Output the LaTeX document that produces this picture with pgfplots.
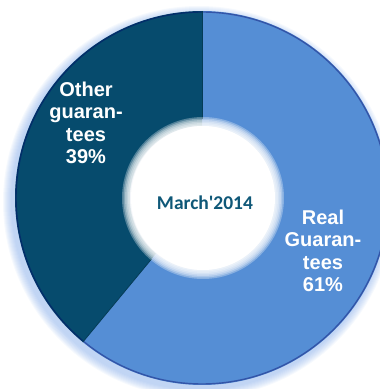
\documentclass[border=0pt]{standalone}
\usepackage{pgfplots}
\pgfplotsset{compat=1.18}
\usepackage{pgfplotstable}
\usepackage{fontspec}
\setmainfont{Liberation Sans}
\newfontfamily\calibri{Carlito}
\definecolor{realblue}{HTML}{558ED5}
\definecolor{otherblue}{HTML}{064B6D}
\definecolor{centertxt}{HTML}{0F5878}
\definecolor{glow}{HTML}{7FA8E8}

\pgfplotstableread{
label value
Real 61
Other 39
}\shares

\begin{document}
\begin{tikzpicture}
\pgfplotstablegetelem{0}{value}\of\shares \xdef\vReal{\pgfplotsretval}
\pgfplotstablegetelem{1}{value}\of\shares \xdef\vOther{\pgfplotsretval}
\pgfmathsetmacro\eReal{90-3.6*\vReal}\xdef\eReal{\eReal}
\pgfmathsetmacro\eOther{\eReal-3.6*\vOther}\xdef\eOther{\eOther}
\gdef\RR{187pt}
\gdef\rr{72pt}
\begin{axis}[scale only axis, width=380pt, height=389pt,
  xmin=-202, xmax=178, ymin=-191, ymax=198, hide axis, clip=true]
  % soft glow below the ring
  \pgfplotsinvokeforeach{1,...,9}{
    \fill[glow, opacity=0.07] (axis cs:-3,-4) circle[radius=187pt+#1pt];
  }
  % Real guarantees
  \fill[realblue] ([shift={(90:\RR)}]axis cs:0,0) arc[start angle=90, end angle=\eReal, radius=\RR]
    -- ([shift={(\eReal:\rr)}]axis cs:0,0) arc[start angle=\eReal, end angle=90, radius=\rr] -- cycle;
  % Other guarantees
  \fill[otherblue] ([shift={(\eReal:\RR)}]axis cs:0,0) arc[start angle=\eReal, end angle=\eOther, radius=\RR]
    -- ([shift={(\eOther:\rr)}]axis cs:0,0) arc[start angle=\eOther, end angle=\eReal, radius=\rr] -- cycle;
  % rims
  \draw[black!60!blue, opacity=0.4, line width=1.4pt] (axis cs:0,0) circle[radius=186pt];
  \draw[otherblue!80!black, line width=0.8pt] ([shift={(90:79pt)}]axis cs:0,0) -- ([shift={(90:\RR)}]axis cs:0,0);
  \draw[otherblue!80!black, line width=0.8pt] ([shift={(\eReal:79pt)}]axis cs:0,0) -- ([shift={(\eReal:\RR)}]axis cs:0,0);
  % hole with soft edge
  \pgfplotsinvokeforeach{81,79.5,78,76.5,75,73.5}{
    \fill[white, opacity=0.3] (axis cs:1,0) circle[radius=#1pt];
  }
  \fill[white] (axis cs:1,0) circle[radius=72pt];
  % labels
  \node[white, align=center, font=\bfseries\fontsize{20}{22.5}\selectfont]
    at (axis cs:-116,75) {Other\\guaran-\\tees\\\vOther\%};
  \node[white, align=center, font=\bfseries\fontsize{20}{22.5}\selectfont]
    at (axis cs:121,-53) {Real\\Guaran-\\tees\\\vReal\%};
  \node[centertxt, font=\calibri\bfseries\fontsize{19.5}{21}\selectfont]
    at (axis cs:3,-5) {March\textquotesingle 2014};
\end{axis}
\pgfresetboundingbox
\path[use as bounding box] (current axis.south west) rectangle (current axis.north east);
\end{tikzpicture}
\end{document}
